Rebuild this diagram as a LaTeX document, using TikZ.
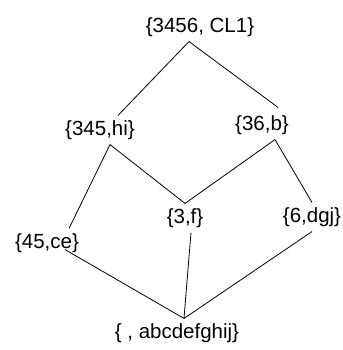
\documentclass[tikz,border=0pt]{standalone}
\usepackage{fontspec}
\setmainfont{Liberation Sans}
\usepackage{tikz}
\usetikzlibrary{positioning}

\begin{document}
\begin{tikzpicture}[x=1pt, y=1pt, line width=0.8pt,
    lat/.style={inner sep=0pt, outer sep=5pt, font=\fontsize{20.5}{24}\selectfont}]
      \useasboundingbox (0,0) rectangle (342,350);
      \node[lat] (cl1) at (200,323) {\{3456, CL1\}};
      \node[lat] (hi) at (100,220) {\{345,hi\}};
      \node[lat] (b) at (262,225) {\{36,b\}};
      \node[lat] (f) at (185,132) {\{3,f\}};
      \node[lat] (dgj) at (312,133) {\{6,dgj\}};
      \node[lat] (ce) at (47,107) {\{45,ce\}};
      \node[lat] (bot) at (177,17) {\{ , abcdefghij\}};

      \draw ([xshift=-11pt]cl1.south) -- ([xshift=18pt]hi.north);
      \draw ([xshift=-11pt]cl1.south) -- ([xshift=16pt,yshift=3pt]b.north);
      \draw ([xshift=10pt]hi.south) -- ([xshift=22pt]ce.north);
      \draw ([xshift=10pt]hi.south) -- (f.north);
      \draw ([xshift=13pt]b.south) -- (f.north);
      \draw ([xshift=13pt]b.south) -- (dgj.north);
      \draw ([xshift=18pt,yshift=8pt]ce.south) -- ([xshift=7pt]bot.north);
      \draw ([xshift=6pt]f.south) -- ([xshift=7pt]bot.north);
      \draw (dgj.south) -- ([xshift=7pt]bot.north);
    \end{tikzpicture}
\end{document}
